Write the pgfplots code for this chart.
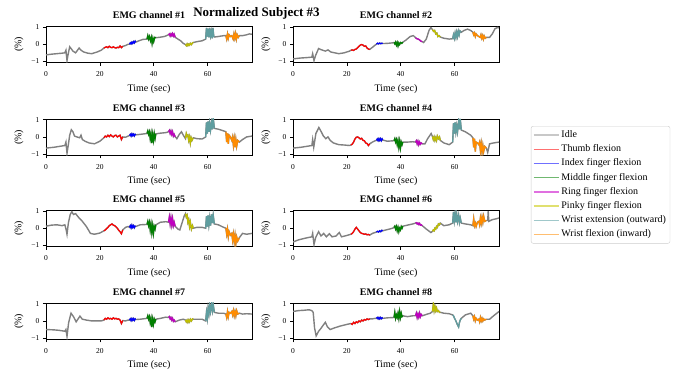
\documentclass[border=0pt]{standalone}
\usepackage{pgfplots}
\pgfplotsset{compat=1.18}
\usepackage{pgfplotstable}
\usepackage{fontspec}
\setmainfont{Liberation Serif}

\definecolor{cIdle}{HTML}{808080}
\definecolor{cThumb}{HTML}{FF0000}
\definecolor{cIndex}{HTML}{0000FF}
\definecolor{cMiddle}{HTML}{008000}
\definecolor{cRing}{HTML}{BF00BF}
\definecolor{cPinky}{HTML}{BFBF00}
\definecolor{cWext}{HTML}{5F9EA0}
\definecolor{cWflex}{HTML}{FF8C00}
\definecolor{lIdle}{HTML}{C8C8C8}
\definecolor{lThumb}{HTML}{FF7070}
\definecolor{lIndex}{HTML}{7070FF}
\definecolor{lMiddle}{HTML}{70B870}
\definecolor{lRing}{HTML}{E070E0}
\definecolor{lPinky}{HTML}{E0E070}
\definecolor{lWext}{HTML}{A0C8CA}
\definecolor{lWflex}{HTML}{FFBE70}

\pgfplotstableread{
t y
0 -0.62
2 -0.58
4 -0.55
6 -0.52
7 -0.5
7.4 -0.35
7.8 -0.95
8.2 -0.6
8.8 -0.15
9.3 -0.25
10 -0.4
11 -0.5
12.3 -0.22
13 -0.35
14 -0.45
15.5 -0.52
17 -0.55
19 -0.45
20.5 -0.35
21.5 -0.22
22 -0.18
22.5 -0.15
23 -0.2
23.5 -0.12
24 -0.18
24.5 -0.2
25 -0.15
25.5 -0.2
26 -0.22
26.5 -0.18
27 -0.2
27.5 -0.1
28 -0.2
28.5 -0.12
29.5 -0.08
30.5 0.0
31 0.0
31.3 0.08
31.6 0.02
31.9 0.12
32.2 0.05
32.5 0.15
32.8 0.08
33.1 0.18
33.3 0.12
34.5 0.2
36 0.28
37.5 0.3
37.8 0.5
38.1 0.3
38.4 0.45
38.8 0.2
39.1 0.4
39.4 0.05
39.7 0.35
40.0 0.15
40.4 0.4
40.8 0.38
42 0.4
44 0.45
45.5 0.55
45.8 0.6
46.1 0.48
46.4 0.6
46.7 0.5
47 0.62
47.3 0.48
47.6 0.58
48 0.4
49 0.3
50 0.2
51 0.05
51.8 -0.02
52.1 -0.08
52.4 0.02
52.7 -0.08
53 0.0
53.3 -0.05
53.6 0.05
54 -0.02
54.4 0.08
54.7 0.1
56 0.15
58 0.2
59.3 0.3
59.6 0.95
59.9 0.45
60.2 0.9
60.5 0.4
60.8 0.95
61.1 0.5
61.4 0.75
61.7 0.35
62.0 0.95
62.3 0.45
62.5 0.42
64 0.45
66 0.5
66.8 0.5
67.1 0.3
67.4 0.6
67.7 0.35
68 0.55
68.5 0.45
69 0.5
69.5 0.3
69.8 0.6
70.1 0.35
70.4 0.62
70.7 0.3
71 0.55
71.4 0.4
71.8 0.5
73 0.5
74.5 0.55
75.5 0.6
76.5 0.58
}\chA

\pgfplotstableread{
t y
0 -0.85
3 -0.8
5 -0.78
7 -0.75
7.3 -0.55
7.8 -0.95
8.4 -0.65
9.5 -0.25
10.5 -0.32
12 -0.4
13 -0.33
14 -0.45
15.5 -0.5
17 -0.55
19 -0.5
21 -0.4
21.5 -0.35
22 -0.33
22.5 -0.36
23 -0.3
23.5 -0.28
24 -0.2
24.5 -0.12
25 -0.05
25.5 -0.02
26 -0.05
26.5 -0.12
27 -0.1
27.5 -0.22
28 -0.28
28.5 -0.3
29.5 -0.18
30.5 -0.05
31 0.0
31.4 0.06
31.8 0.02
32.2 0.07
32.6 0.03
33 0.06
33.3 0.04
35 0.05
37 0.08
37.5 0.1
37.8 0.02
38.1 0.12
38.4 -0.05
38.7 0.1
39 -0.1
39.3 0.08
39.6 -0.02
40 0.1
40.4 0.05
40.8 0.12
42 0.25
43.5 0.45
44.7 0.5
45.5 0.38
46 0.32
46.5 0.3
47 0.25
47.5 0.18
48 0.15
48.5 0.1
49.5 0.3
50.5 0.8
51.2 0.97
51.8 0.85
52.2 0.75
52.6 0.8
53 0.6
53.4 0.65
53.8 0.45
54.2 0.5
54.7 0.42
56 0.35
58 0.3
59.3 0.32
59.6 0.55
59.9 0.35
60.2 0.65
60.5 0.4
60.8 0.7
61.1 0.45
61.4 0.75
61.7 0.55
62 0.78
62.5 0.7
63.5 0.8
64.8 0.88
66 0.8
66.8 0.7
67.1 0.55
67.4 0.65
67.7 0.45
68 0.6
68.5 0.5
69 0.45
69.5 0.4
69.8 0.55
70.1 0.35
70.4 0.5
70.7 0.3
71 0.48
71.4 0.35
71.8 0.4
73 0.4
74 0.6
75 0.9
76 0.98
76.5 0.95
}\chB

\pgfplotstableread{
t y
0 -0.65
3 -0.6
5 -0.55
7 -0.5
7.4 -0.3
7.8 -0.95
8.3 -0.45
8.8 0.1
9.4 0.42
10 0.3
10.6 0.05
11.5 0.0
12.5 -0.05
13 0.1
13.5 -0.15
14.5 -0.25
16 -0.35
18 -0.4
20 -0.25
21.5 -0.05
22 0.05
22.5 0.0
23 0.1
23.5 0.02
24 0.12
24.5 0.05
25 0.0
25.5 0.08
26 0.1
26.5 0.0
27 0.05
27.5 0.1
28 -0.15
28.5 0.0
29.5 -0.02
30.5 0.05
31 0.08
31.3 0.15
31.6 0.05
31.9 0.18
32.2 0.08
32.5 0.16
32.8 0.06
33.1 0.15
33.3 0.12
35 0.15
37.5 0.2
37.8 0.35
38.1 0.15
38.4 0.3
38.7 -0.1
39.0 0.2
39.3 -0.35
39.6 0.15
39.9 -0.2
40.2 0.2
40.5 -0.1
40.8 0.18
42.5 0.22
44.5 0.25
45.5 0.3
45.8 0.38
46.1 0.2
46.4 0.35
46.7 0.15
47 0.3
47.3 0.05
47.6 0.15
48 0.0
48.6 -0.1
49.5 0.15
50.3 0.3
51 0.1
51.8 -0.1
52.1 0.2
52.4 0.05
52.7 0.1
53 -0.2
53.3 0.0
53.6 -0.35
53.9 -0.05
54.2 -0.2
54.7 -0.05
56 -0.1
58 -0.12
59.3 0.0
59.6 0.85
59.9 0.2
60.2 0.9
60.5 0.3
60.8 0.8
61.1 0.4
61.5 0.85
61.8 0.45
62.1 1.1
62.5 0.5
64 0.45
66 0.35
66.8 0.3
67.1 -0.3
67.4 0.2
67.7 -0.4
68 0.1
68.5 0.0
69 -0.2
69.3 0.0
69.6 -0.5
69.9 -0.1
70.2 -0.6
70.5 -0.15
70.8 -0.55
71.2 -0.2
71.8 -0.3
73 -0.15
74.5 0.0
76.5 0.05
}\chC

\pgfplotstableread{
t y
0 -0.65
3 -0.6
5 -0.55
7 -0.5
7.3 -0.15
7.7 -0.6
8.5 0.2
9.6 0.55
10.5 0.3
11.3 0.05
12.2 -0.1
13 0.0
13.8 -0.2
15 -0.35
17 -0.45
19 -0.47
21 -0.5
21.5 -0.47
22 -0.42
22.5 -0.3
23 -0.12
23.5 -0.02
24 0.0
24.5 -0.05
25 -0.12
25.5 -0.08
26 -0.2
26.5 -0.22
27 -0.35
27.5 -0.38
28 -0.5
28.5 -0.4
29.5 -0.3
30.5 -0.22
31 -0.2
31.3 -0.12
31.6 -0.22
31.9 -0.1
32.2 -0.2
32.5 -0.1
32.8 -0.22
33.1 -0.12
33.3 -0.18
35 -0.25
37.5 -0.22
37.8 -0.1
38.1 -0.3
38.4 -0.15
38.7 -0.45
39 -0.2
39.3 -0.6
39.6 -0.25
39.9 -0.65
40.2 -0.3
40.5 -0.45
40.8 -0.3
42.5 -0.3
44.5 -0.28
45.5 -0.3
45.8 -0.22
46.1 -0.4
46.4 -0.25
46.7 -0.45
47 -0.3
47.3 -0.42
47.6 -0.35
48 -0.4
49 -0.4
50 -0.1
51.3 0.2
51.8 0.02
52.1 -0.15
52.4 0.0
52.7 -0.2
53 -0.05
53.3 -0.2
53.6 0.05
54 -0.1
54.4 0.0
54.7 -0.2
56 -0.35
58 -0.45
59.3 -0.3
59.6 0.8
59.9 0.2
60.2 0.85
60.5 0.3
60.8 0.65
61.1 0.3
61.5 0.9
61.8 0.45
62.1 1.05
62.5 0.4
64 0.3
66 0.1
66.8 -0.05
67.1 -0.6
67.4 -0.1
67.7 -0.85
68 -0.3
68.5 -0.35
69 -0.45
69.3 -0.3
69.6 -0.8
69.9 -0.4
70.2 -0.9
70.5 -0.5
70.8 -0.85
71.2 -0.55
71.8 -0.65
72.3 -0.9
73 -0.4
74.5 -0.35
76.5 -0.3
}\chD

\pgfplotstableread{
t y
0 0.12
2 0.18
4 0.2
6 0.15
7 0.2
7.5 -0.1
7.8 -0.35
8.3 0.3
9 0.8
9.6 0.96
10.2 0.8
11 0.85
12 0.65
13.5 0.4
15 0.1
16.5 -0.3
18 -0.35
20 -0.28
21.5 -0.15
22 -0.1
22.5 -0.02
23 0.05
23.5 0.15
24 0.2
24.5 0.25
25 0.18
25.5 0.15
26 0.08
26.5 0.0
27 -0.12
27.5 -0.2
28 -0.32
28.5 -0.1
29.5 0.05
30.5 0.1
31 0.05
31.3 0.15
31.6 0.02
31.9 0.18
32.2 0.05
32.5 0.15
32.8 0.03
33.1 0.12
33.3 0.1
35 0.2
37.5 0.22
37.8 0.4
38.1 0.15
38.4 0.35
38.7 -0.1
39.0 0.25
39.3 -0.25
39.6 0.15
39.9 -0.3
40.2 0.1
40.5 -0.05
40.8 0.2
42.5 0.35
44.5 0.38
45.5 0.35
45.8 0.65
46.1 0.25
46.4 0.6
46.7 0.2
47 0.55
47.3 0.15
47.6 0.35
48 0.1
49 -0.05
49.7 -0.1
50.5 0.3
51.3 0.7
51.8 0.85
52.1 0.65
52.4 0.75
52.7 0.35
53 0.5
53.3 0.1
53.6 0.35
54 -0.05
54.4 0.15
54.7 0.0
56 0.05
58 0.05
59.3 0.0
59.6 0.7
59.9 0.1
60.2 0.75
60.5 0.2
60.8 0.6
61.1 0.15
61.5 0.8
61.8 0.3
62.1 0.75
62.5 0.25
64 0.2
66 0.05
66.8 0.0
67.1 -0.35
67.4 -0.05
67.7 -0.5
68 -0.2
68.5 -0.4
69 -0.3
69.3 -0.7
69.6 -0.35
69.9 -0.8
70.2 -0.4
70.5 -0.9
70.8 -0.5
71.2 -0.75
71.8 -0.55
73 -0.3
74.5 -0.35
76.5 -0.3
}\chE

\pgfplotstableread{
t y
0 -0.8
2 -0.68
4 -0.6
6 -0.53
7 -0.5
7.3 -0.3
7.8 -0.95
8.4 -0.55
9.5 -0.2
10.4 -0.45
11.4 -0.3
12.4 -0.5
13.5 -0.32
14.5 -0.5
16 -0.45
17.2 -0.25
18 -0.5
20 -0.42
21.5 -0.35
22 -0.3
22.5 -0.2
23 -0.05
23.5 0.05
24 -0.05
24.5 -0.15
25 -0.25
25.5 -0.3
26 -0.32
26.5 -0.35
27 -0.33
27.5 -0.38
28 -0.36
28.5 -0.4
29.5 -0.3
30.5 -0.25
31 -0.22
31.4 -0.18
31.8 -0.22
32.2 -0.15
32.6 -0.2
33 -0.12
33.3 -0.15
35 -0.08
37 0.0
37.5 0.05
37.8 0.12
38.1 -0.05
38.4 0.1
38.7 -0.15
39 0.05
39.3 -0.2
39.6 0.0
39.9 -0.1
40.2 0.1
40.5 0.0
40.8 0.12
42.5 0.18
44.5 0.25
45.5 0.3
45.8 0.32
46.1 0.25
46.4 0.3
46.7 0.22
47 0.28
47.3 0.18
47.6 0.2
48 0.15
49.5 -0.05
51.2 -0.25
51.8 -0.18
52.1 -0.1
52.4 -0.15
52.7 0.0
53 -0.05
53.3 0.1
53.6 0.05
54 0.25
54.4 0.2
54.7 0.3
56 0.15
58 0.2
59.3 0.3
59.6 0.95
59.9 0.45
60.2 0.85
60.5 0.35
60.8 0.8
61.1 0.4
61.5 0.75
61.8 0.35
62.1 0.6
62.5 0.3
64 0.25
66 0.2
66.8 0.15
67.1 0.55
67.4 0.15
67.7 0.3
68 0.1
68.5 0.35
69 0.4
69.3 0.2
69.6 0.6
69.9 0.3
70.2 0.65
70.5 0.35
70.8 0.7
71.2 0.4
71.8 0.45
72.3 0.45
72.5 1.0
72.7 0.4
74 0.5
75.5 0.55
76.5 0.6
}\chF

\pgfplotstableread{
t y
0 -0.5
3 -0.52
5 -0.55
7 -0.6
7.4 -0.5
7.8 -0.9
8.4 -0.1
9.3 0.45
10.2 0.25
11.2 -0.05
12.6 0.28
13.5 0.1
15 0.05
17 0.0
19 0.0
20.5 0.0
21.5 0.05
22 0.15
22.5 0.1
23 0.18
23.5 0.12
24 0.15
24.5 0.1
25 0.18
25.5 0.12
26 0.15
26.5 0.1
27 0.12
27.5 0.05
28 -0.15
28.5 0.02
29.5 0.0
30.5 0.05
31 0.05
31.3 0.12
31.6 0.02
31.9 0.14
32.2 0.04
32.5 0.13
32.8 0.03
33.1 0.12
33.3 0.08
35 0.1
37.5 0.15
37.8 0.3
38.1 0.1
38.4 0.25
38.7 -0.1
39 0.15
39.3 -0.35
39.6 0.1
39.9 -0.2
40.2 0.1
40.5 -0.05
40.8 0.1
42.5 0.15
44.5 0.22
45.5 0.2
45.8 0.25
46.1 0.12
46.4 0.2
46.7 0.05
47 0.15
47.3 -0.02
47.6 0.05
48 -0.05
49.5 0.05
51 0.1
51.8 0.05
52.1 -0.05
52.4 0.05
52.7 -0.08
53 0.05
53.3 -0.05
53.6 0.1
54 0.0
54.4 0.12
54.7 0.1
56 0.1
58 0.1
59.3 0.0
59.6 0.5
59.9 0.15
60.2 0.75
60.5 0.4
60.8 0.9
61.1 0.55
61.5 1.0
61.8 0.6
62.1 0.95
62.5 0.5
64 0.45
66 0.45
66.8 0.4
67.1 0.2
67.4 0.55
67.7 0.25
68 0.5
68.5 0.45
69 0.55
69.3 0.35
69.6 0.6
69.9 0.3
70.2 0.55
70.5 0.3
70.8 0.6
71.2 0.4
71.8 0.45
73 0.4
74.5 0.42
76.5 0.4
}\chG

\pgfplotstableread{
t y
0 0.55
2 0.6
4 0.62
6 0.65
7 0.6
7.5 0.5
8 -0.4
8.6 -0.87
9.5 -0.6
10.3 -0.45
11.2 -0.25
12 -0.08
12.8 -0.35
13.8 -0.5
15.5 -0.4
17.5 -0.3
19.5 -0.22
21.5 -0.15
22 -0.2
22.5 -0.08
23 -0.15
23.5 -0.05
24 -0.1
24.5 0.0
25 -0.05
25.5 0.05
26 0.0
26.5 0.08
27 0.05
27.5 0.12
28 0.08
28.5 0.12
29.5 0.12
30.5 0.15
31 0.15
31.3 0.2
31.6 0.12
31.9 0.2
32.2 0.12
32.5 0.2
32.8 0.13
33.1 0.18
33.3 0.15
35 0.18
37.5 0.2
37.8 0.5
38.1 0.15
38.4 0.35
38.7 0.2
39 0.45
39.3 0.15
39.6 0.55
39.9 0.2
40.2 0.45
40.5 0.25
40.8 0.3
42.5 0.25
44.5 0.3
45.5 0.3
45.8 0.45
46.1 0.2
46.4 0.4
46.7 0.22
47 0.45
47.3 0.25
47.6 0.38
48 0.3
49.5 0.38
51 0.45
51.8 0.55
52.1 0.95
52.4 0.6
52.7 0.85
53 0.6
53.3 0.75
53.6 0.55
54 0.6
54.4 0.5
54.7 0.5
56 0.45
58 0.42
59.3 0.35
59.6 0.3
60 0.15
60.5 0.0
61 -0.2
61.5 -0.35
61.8 -0.1
62.1 0.05
62.5 0.15
64 0.35
66 0.45
66.8 0.3
67.1 0.1
67.4 0.25
67.7 0.0
68 0.15
68.5 0.05
69 0.1
69.3 -0.05
69.6 0.2
69.9 0.0
70.2 0.15
70.5 0.0
70.8 0.12
71.2 0.05
71.8 0.1
73 0.1
74.5 0.3
76.5 0.55
}\chH

\pgfplotsset{
  emgax/.style={
    scale only axis, width=206pt, height=36.6pt, anchor=south west,
    xmin=0, xmax=76.5, ymin=-1.08, ymax=1.05,
    xtick={0,20,40,60}, xticklabels={0,20,40,60},
    ytick={-1,0,1}, yticklabels={−1,0,1},
    tick align=outside, tick pos=left, major tick length=3pt,
    axis line style={line width=0.7pt},
    every tick/.style={black, line width=0.7pt},
    tick label style={font=\fontsize{7.5}{8}\selectfont},
    xticklabel style={yshift=-2pt},
    xlabel={Time (sec)}, ylabel={(\%)},
    label style={font=\fontsize{10}{12}\selectfont},
    xlabel style={yshift=-1pt},
    ylabel style={yshift=1pt},
    title style={font=\bfseries\fontsize{10}{12}\selectfont, yshift=-2pt},
  },
}
\newcommand{\emg}[1]{%
  \addplot[cIdle, line width=1.4pt, forget plot] table[x=t,y=y] {#1};
  \addplot[cThumb, line width=1.2pt, forget plot, restrict x to domain=21.5:28.5] table[x=t,y=y] {#1};
  \addplot[cIndex, line width=1.2pt, forget plot, restrict x to domain=31:33.3] table[x=t,y=y] {#1};
  \addplot[cMiddle, line width=1.2pt, forget plot, restrict x to domain=37.5:40.8] table[x=t,y=y] {#1};
  \addplot[cRing, line width=1.2pt, forget plot, restrict x to domain=45.5:48] table[x=t,y=y] {#1};
  \addplot[cPinky, line width=1.2pt, forget plot, restrict x to domain=51.8:54.7] table[x=t,y=y] {#1};
  \addplot[cWext, line width=1.2pt, forget plot, restrict x to domain=59.3:62.5] table[x=t,y=y] {#1};
  \addplot[cWflex, line width=1.2pt, forget plot, restrict x to domain=66.8:71.8] table[x=t,y=y] {#1};
}

\begin{document}
\begin{tikzpicture}
\useasboundingbox (0pt,0pt) rectangle (681pt,371pt);
\node[font=\bfseries\fontsize{13}{15}\selectfont] at (256.5pt,357.5pt) {Normalized Subject \#3};

\begin{axis}[emgax, at={(46pt,308.2pt)}, title={EMG channel \#1}]
\emg{\chA}
\end{axis}
\begin{axis}[emgax, at={(293pt,308.2pt)}, title={EMG channel \#2}]
\emg{\chB}
\end{axis}
\begin{axis}[emgax, at={(46pt,215.5pt)}, title={EMG channel \#3}]
\emg{\chC}
\end{axis}
\begin{axis}[emgax, at={(293pt,215.5pt)}, title={EMG channel \#4},
  legend style={at={(1.155,0.805)}, anchor=north west,
    font=\fontsize{10}{11}\selectfont, draw=black!20, rounded corners=2pt,
    inner xsep=2pt, inner ysep=2pt, row sep=0.5pt,
    nodes={inner sep=2pt, text height=7.3pt, text depth=2.4pt}},
  legend cell align=left,
  legend image code/.code={\draw[#1] (0pt,0pt) -- (20pt,0pt); \path (0pt,0pt) -- (25pt,0pt);}]
\emg{\chD}
\addlegendimage{color=lIdle, line width=1.3pt}
\addlegendentry{Idle}
\addlegendimage{color=lThumb, line width=1.3pt}
\addlegendentry{Thumb flexion}
\addlegendimage{color=lIndex, line width=1.3pt}
\addlegendentry{Index finger flexion}
\addlegendimage{color=lMiddle, line width=1.3pt}
\addlegendentry{Middle finger flexion}
\addlegendimage{color=lRing, line width=1.3pt}
\addlegendentry{Ring finger flexion}
\addlegendimage{color=lPinky, line width=1.3pt}
\addlegendentry{Pinky finger flexion}
\addlegendimage{color=lWext, line width=1.3pt}
\addlegendentry{Wrist extension (outward)}
\addlegendimage{color=lWflex, line width=1.3pt}
\addlegendentry{Wrist flexion (inward)}
\end{axis}
\begin{axis}[emgax, at={(46pt,124.2pt)}, title={EMG channel \#5}]
\emg{\chE}
\end{axis}
\begin{axis}[emgax, at={(293pt,124.2pt)}, title={EMG channel \#6}]
\emg{\chF}
\end{axis}
\begin{axis}[emgax, at={(46pt,31.5pt)}, title={EMG channel \#7}]
\emg{\chG}
\end{axis}
\begin{axis}[emgax, at={(293pt,31.5pt)}, title={EMG channel \#8}]
\emg{\chH}
\end{axis}
\end{tikzpicture}
\end{document}
